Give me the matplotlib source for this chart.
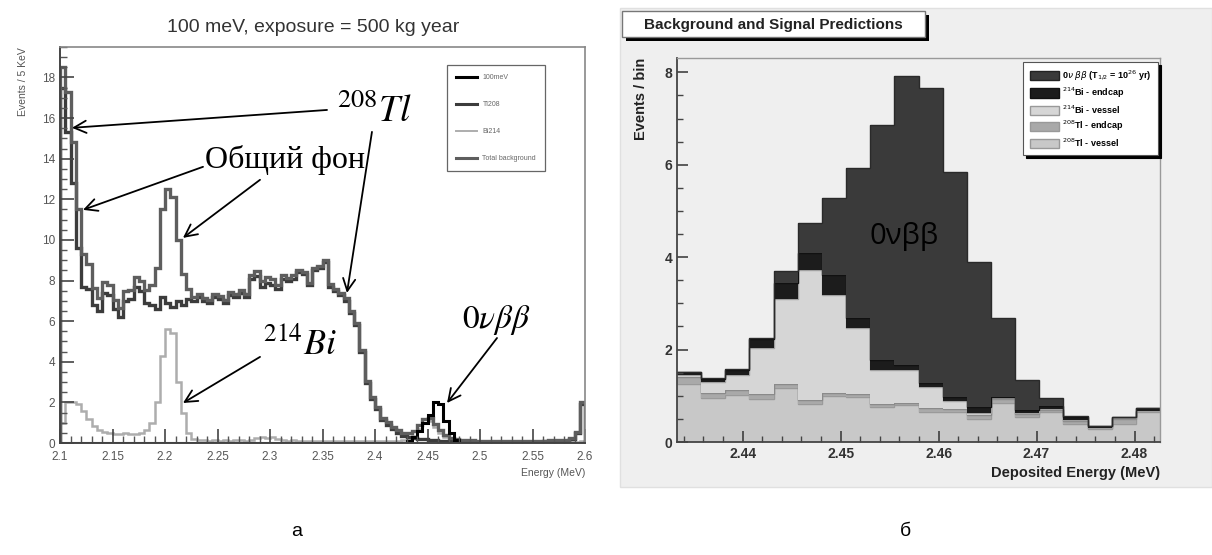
import numpy as np
import matplotlib
matplotlib.use("Agg")
import matplotlib.pyplot as plt
from matplotlib.patches import Patch, Rectangle
from matplotlib.lines import Line2D
from matplotlib.ticker import MultipleLocator

plt.rcParams['font.family'] = ['Liberation Sans', 'DejaVu Sans']

# ---- panel a: 100 bins of 5 keV, 2.1 .. 2.6 MeV ----
e_lo, e_hi, n_bins = 2.1, 2.6, 100

tl208 = [17.5, 15.3, 12.8, 9.6, 7.7, 7.6, 6.8, 6.5, 7.4, 7.3,
         6.6, 6.2, 7.0, 7.1, 7.7, 7.5, 6.9, 6.8, 6.6, 7.2,
         6.9, 6.7, 7.0, 6.8, 7.1, 7.0, 7.2, 7.0, 6.9, 7.2,
         7.1, 6.9, 7.3, 7.2, 7.4, 7.2, 8.1, 8.2, 7.7, 7.9,
         7.8, 7.6, 8.1, 8.0, 8.1, 8.4, 8.3, 7.8, 8.5, 8.6,
         8.9, 7.7, 7.5, 7.3, 7.0, 6.4, 5.8, 4.5, 2.95, 2.15,
         1.65, 1.15, 0.9, 0.7, 0.5, 0.35, 0.3, 0.25, 0.2, 0.2,
         0.15, 0.15, 0.12, 0.1, 0.1, 0.08, 0.08, 0.07, 0.07, 0.06,
         0.06, 0.05, 0.05, 0.06, 0.05, 0.05, 0.06, 0.05, 0.05, 0.06,
         0.05, 0.06, 0.08, 0.1, 0.12, 0.1, 0.12, 0.2, 0.5, 1.9]

bi214 = [1.0, 2.0, 2.0, 1.9, 1.6, 1.2, 0.85, 0.65, 0.55, 0.5,
         0.45, 0.45, 0.5, 0.45, 0.45, 0.5, 0.65, 1.0, 2.0, 4.3,
         5.6, 5.4, 3.0, 1.5, 0.5, 0.2, 0.15, 0.15, 0.12, 0.15,
         0.12, 0.15, 0.12, 0.15, 0.15, 0.12, 0.15, 0.25, 0.3, 0.25,
         0.3, 0.2, 0.15, 0.12, 0.15, 0.12, 0.12, 0.1, 0.12, 0.1,
         0.1, 0.12, 0.1, 0.1, 0.12, 0.1, 0.1, 0.1, 0.12, 0.1,
         0.1, 0.1, 0.12, 0.1, 0.12, 0.15, 0.2, 0.35, 0.7, 1.0,
         1.1, 0.8, 0.5, 0.3, 0.15, 0.1, 0.08, 0.08, 0.06, 0.06,
         0.06, 0.05, 0.05, 0.05, 0.05, 0.05, 0.05, 0.04, 0.04, 0.05,
         0.04, 0.05, 0.04, 0.05, 0.04, 0.05, 0.04, 0.05, 0.05, 0.1]

signal_100mev = ([0.0] * 66
                 + [0.1, 0.3, 0.6, 1.0, 1.4, 2.0, 1.9, 1.1, 0.5, 0.15]
                 + [0.0] * 24)

legend_a = ['100meV', 'Tl208', 'Bi214', 'Total background']

# ---- panel b: 20 bins, stacked ----
dep_lo, dep_hi, dep_bins = 2.4333, 2.4826, 20
tl_vessel = [1.25, 0.95, 1.02, 0.93, 1.17, 0.82, 1.00, 0.97, 0.76, 0.80,
             0.64, 0.66, 0.50, 0.85, 0.55, 0.65, 0.40, 0.28, 0.40, 0.66]
tl_endcap = [0.15, 0.10, 0.10, 0.10, 0.08, 0.08, 0.07, 0.07, 0.06, 0.05,
             0.10, 0.05, 0.08, 0.07, 0.05, 0.04, 0.06, 0.03, 0.10, 0.02]
bi_vessel = [0.05, 0.25, 0.33, 1.00, 1.85, 2.82, 2.11, 1.42, 0.74, 0.71,
             0.45, 0.17, 0.04, 0.03, 0.02, 0.02, 0.02, 0.00, 0.01, 0.00]
bi_endcap = [0.07, 0.06, 0.10, 0.20, 0.35, 0.36, 0.43, 0.22, 0.21, 0.10,
             0.08, 0.10, 0.14, 0.03, 0.08, 0.06, 0.06, 0.04, 0.04, 0.05]
signal_0v = [0.00, 0.02, 0.02, 0.02, 0.24, 0.65, 1.66, 3.24, 5.09, 6.26,
             6.39, 4.87, 3.14, 1.70, 0.64, 0.18, 0.03, 0.00, 0.00, 0.00]
legend_b = [r'0$\nu$ $\beta\beta$ (T$_{1/2}$ = 10$^{26}$ yr)',
            r'$^{214}$Bi - endcap', r'$^{214}$Bi - vessel',
            r'$^{208}$Tl - endcap', r'$^{208}$Tl - vessel']

W, H = 1212, 555
fig = plt.figure(figsize=(W / 100, H / 100), dpi=100)
fig.patch.set_facecolor('white')

# ================= panel a =================
ax = fig.add_axes([60 / W, 1 - 443 / H, 525 / W, 396 / H])
edges = np.linspace(e_lo, e_hi, n_bins + 1)
tl = np.array(tl208)
bi = np.array(bi214)
total = tl + bi

ax.stairs(bi, edges, color='#adadad', lw=1.8)
ax.stairs(tl, edges, color='#3c3c3c', lw=2.4)
ax.stairs(total, edges, color='#5e5e5e', lw=2.4)
ax.stairs(signal_100mev, edges, color='black', lw=2.2)

ax.set_xlim(e_lo, e_hi)
ax.set_ylim(0, 19.5)
ax.xaxis.set_major_locator(MultipleLocator(0.05))
ax.xaxis.set_minor_locator(MultipleLocator(0.01))
ax.yaxis.set_major_locator(MultipleLocator(2))
ax.yaxis.set_minor_locator(MultipleLocator(0.5))
ax.xaxis.set_major_formatter(plt.FuncFormatter(lambda v, p: f'{v:g}'))
ax.tick_params(which='major', direction='in', length=10, width=1.2, colors='#444',
               labelsize=8.5, labelcolor='#555', top=False, right=False)
ax.tick_params(axis='x', which='major', pad=6)
ax.tick_params(which='minor', direction='in', length=5, width=1, colors='#555')
for s in ['top', 'right']:
    ax.spines[s].set_color('#888')
    ax.spines[s].set_linewidth(1.2)
for s in ['left', 'bottom']:
    ax.spines[s].set_color('#444')
    ax.spines[s].set_linewidth(1.4)
ax.set_xlabel('Energy (MeV)', loc='right', fontsize=7.5, color='#555', labelpad=3)
ax.set_ylabel('Events / 5 KeV', loc='top', fontsize=7.5, color='#555', labelpad=10)

handles_a = [Line2D([], [], color='black', lw=2.2),
             Line2D([], [], color='#3c3c3c', lw=2.2),
             Line2D([], [], color='#adadad', lw=1.4),
             Line2D([], [], color='#5e5e5e', lw=2.2)]
leg = ax.legend(handles_a, legend_a, loc='upper left',
                bbox_to_anchor=(447 / W, 1 - 65 / H), bbox_transform=fig.transFigure,
                fontsize=5, labelspacing=2.9, handlelength=3.0, borderpad=1.3,
                fancybox=False, framealpha=1, edgecolor='#666', labelcolor='#666',
                borderaxespad=0)
leg.get_frame().set_linewidth(0.9)

fig.text(313 / W, 1 - 27 / H, '100 meV, exposure = 500 kg year', ha='center',
         va='center', fontsize=14, color='#333')

arrow = dict(arrowstyle='->', color='black', lw=1.3, mutation_scale=22,
             shrinkA=0, shrinkB=0)
ax.text(2.3638, 16.3, r'$^{208}Tl$', fontsize=27, math_fontfamily='stix',
        ha='left', va='center')
ax.annotate('', xy=(2.1114, 15.52), xytext=(2.3543, 16.40), arrowprops=arrow)
ax.annotate('', xy=(2.3733, 7.39), xytext=(2.3971, 15.32), arrowprops=arrow)

ax.text(2.2381, 13.94, 'Общий фон', fontfamily='Liberation Serif', fontsize=23,
        ha='left', va='center')
ax.annotate('', xy=(2.1219, 11.48), xytext=(2.2362, 13.60), arrowprops=arrow)
ax.annotate('', xy=(2.2171, 10.10), xytext=(2.2905, 12.96), arrowprops=arrow)

ax.text(2.2933, 4.83, r'$^{214}Bi$', fontsize=26, math_fontfamily='stix',
        ha='left', va='center')
ax.annotate('', xy=(2.2171, 1.97), xytext=(2.2905, 4.24), arrowprops=arrow)

ax.text(2.4829, 6.06, r'$\mathit{0}\nu\beta\beta$', fontsize=24,
        math_fontfamily='stix', ha='left', va='center')
ax.annotate('', xy=(2.4686, 1.97), xytext=(2.5162, 5.17), arrowprops=arrow)

# ================= panel b =================
canvas = Rectangle((620 / W, 1 - 487 / H), (W - 620) / W, (487 - 8) / H,
                   transform=fig.transFigure, fc='#efefef', ec='#e0e0e0', zorder=-2)
fig.add_artist(canvas)

ax2 = fig.add_axes([677 / W, 1 - 442 / H, 483 / W, 384 / H])
ax2.set_facecolor('#efefef')
edges2 = np.linspace(dep_lo, dep_hi, dep_bins + 1)
layers = [tl_vessel, tl_endcap, bi_vessel, bi_endcap, signal_0v]
fills = ['#c8c8c8', '#a9a9a9', '#d6d6d6', '#1c1c1c', '#3a3a3a']
lines = ['#9a9a9a', '#8a8a8a', '#a0a0a0', '#111111', '#2a2a2a']
tops = np.cumsum(np.array(layers), axis=0)
bottom = np.zeros(dep_bins)
for top, fc, lc in zip(tops, fills, lines):
    ax2.stairs(top, edges2, baseline=bottom, fill=True, color=fc)
    ax2.stairs(top, edges2, baseline=None, color=lc, lw=1.0)
    bottom = top

ax2.set_xlim(dep_lo, dep_hi)
ax2.set_ylim(0, 8.31)
ax2.xaxis.set_major_locator(MultipleLocator(0.01))
ax2.xaxis.set_minor_locator(MultipleLocator(0.002))
ax2.yaxis.set_major_locator(MultipleLocator(2))
ax2.yaxis.set_minor_locator(MultipleLocator(0.5))
ax2.xaxis.set_major_formatter(plt.FuncFormatter(lambda v, p: f'{v:.2f}'))
ax2.tick_params(which='major', direction='in', length=8, width=1.1, colors='#333',
                labelsize=10, top=False, right=False)
ax2.tick_params(which='minor', direction='in', length=4, width=1, colors='#444')
for lab in ax2.get_xticklabels() + ax2.get_yticklabels():
    lab.set_fontweight('bold')
for s in ['top', 'right']:
    ax2.spines[s].set_color('#999')
    ax2.spines[s].set_linewidth(1.0)
for s in ['left', 'bottom']:
    ax2.spines[s].set_color('#444')
    ax2.spines[s].set_linewidth(1.3)
ax2.set_xlabel('Deposited Energy (MeV)', loc='right', fontsize=10.5,
               fontweight='bold', color='#222', labelpad=4)
ax2.set_ylabel('Events / bin', loc='top', fontsize=10.5, fontweight='bold',
               color='#222', labelpad=12)

ax2.text(2.4565, 4.45, '0νββ', fontfamily=['Open Sans', 'DejaVu Sans'],
         fontsize=21, ha='center', va='center', color='black')

handles_b = [Patch(fc=fills[4], ec='#222'), Patch(fc=fills[3], ec='#111'),
             Patch(fc=fills[2], ec='#999'), Patch(fc=fills[1], ec='#999'),
             Patch(fc=fills[0], ec='#999')]
leg2 = ax2.legend(handles_b, legend_b, loc='upper right',
                  bbox_to_anchor=(1158 / W, 1 - 62 / H), bbox_transform=fig.transFigure,
                  prop={'size': 6.5, 'weight': 'bold'}, labelspacing=0.35,
                  handlelength=3.2, handleheight=1.2, handletextpad=0.4,
                  borderpad=0.7, fancybox=False, framealpha=1, edgecolor='#555',
                  borderaxespad=0, shadow={'color': 'black', 'alpha': 1})
leg2.get_frame().set_linewidth(0.8)

shadow = Rectangle((626 / W, 1 - 41 / H), 303 / W, 26 / H,
                   transform=fig.transFigure, fc='black', ec='none', zorder=3)
box = Rectangle((622 / W, 1 - 37 / H), 303 / W, 26 / H,
                transform=fig.transFigure, fc='white', ec='#777', lw=1, zorder=4)
fig.add_artist(shadow)
fig.add_artist(box)
fig.text(773 / W, 1 - 24.5 / H, 'Background and Signal Predictions', ha='center',
         va='center', fontsize=11, fontweight='bold', color='#222', zorder=5)

# panel captions
fig.text(297 / W, 1 - 531 / H, 'а', ha='center', va='center', fontsize=14)
fig.text(905 / W, 1 - 531 / H, 'б', ha='center', va='center', fontsize=14)

fig.savefig('out.png', dpi=100)
